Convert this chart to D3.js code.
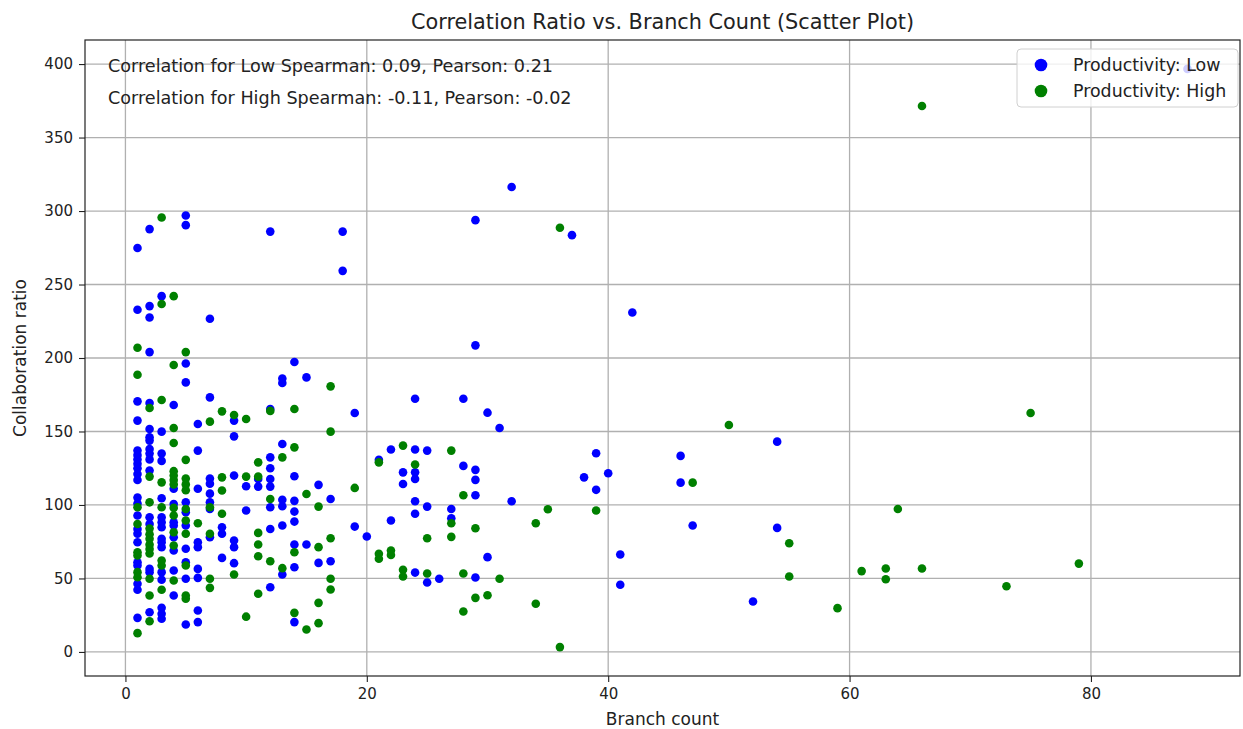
<!DOCTYPE html>
<html>
<head>
<meta charset="utf-8">
<script src="https://cdn.jsdelivr.net/npm/d3@7"></script>
<style>
  html, body { margin: 0; padding: 0; background: #ffffff; }
  svg text { font-family: "DejaVu Sans", sans-serif; fill: #222; }
</style>
</head>
<body>
<svg id="chart" width="1243" height="729"></svg>
<script>
// Branch count (x) and collaboration ratio (y) per project, split by productivity group
const lowX = [
  1,1,1,1,1,1,1,1,1,1,1,1,1,1,1,1,1,1,1,1,1,1,
  2,2,2,2,2,2,2,2,2,2,2,2,2,2,2,2,2,
  3,3,3,3,3,3,3,3,3,3,3,3,3,3,3,3,
  4,4,4,4,4,4,4,4,4,
  5,5,5,5,5,5,5,5,5,5,5,
  6,6,6,6,6,6,6,6,6,
  7,7,7,7,7,7,7,7,
  8,8,8,
  9,9,9,9,9,9,
  10,10,
  11,11,
  12,12,12,12,12,12,12,12,12,
  13,13,13,13,13,13,13,
  14,14,14,14,14,14,14,14,
  15,15,
  16,16,
  17,17,
  18,18,
  19,19,
  20,
  21,
  22,22,
  23,23,
  24,24,24,24,24,24,24,
  25,25,25,
  26,
  27,27,
  28,28,
  29,29,29,29,29,29,
  30,30,
  31,
  32,32,
  37,38,39,39,40,41,41,42,46,46,47,52,54,54,88
];
const lowY = [
  274.8,232.8,170.5,157.4,137,134,131,128,125,121,117,105,101,92.8,83.7,80.5,74.6,61,58.8,46.4,42.3,23.2,
  287.7,235.3,227.6,204,169.4,151.7,146,143.8,138,135,131,123.4,91.6,87.1,56.5,54.3,27,
  242.1,149.9,135,130,104.6,91.6,88.2,84.8,77,74.6,71.3,54.3,49.1,30,26,22.6,
  168,111,100.7,88.2,86,78,69,55.4,38.4,
  297,290.4,196.3,183.4,101.8,95,86,70.2,61,49.8,18.7,
  155.1,137,111,74.6,71.3,56.5,50.4,28.2,20.3,
  226.7,173.2,118,114.5,107.7,101.8,97.3,78,
  84.8,80.4,64,
  157.4,146.7,120,75.8,71.3,60.4,
  112.7,96.2,
  117.7,112.5,
  286,165.3,132.4,125,117.7,112.5,98.4,83.7,44,
  186,183,141.5,103.5,99.1,86,52.7,
  197.3,119.5,102.8,95.5,88.7,73.1,57.6,20.3,
  186.8,73.1,
  113.7,60.6,
  104.1,61.7,
  286,259.3,
  162.6,85.3,
  78.5,
  130.7,
  137.7,89.4,
  122.2,114.3,
  172.3,137.7,122.2,117.7,102.5,94,54,
  137,98.9,47.2,
  49.8,
  97.3,91,
  172.3,126.6,
  293.8,208.6,123.9,117.1,106.6,50.6,
  162.8,64.5,
  152.4,
  316.4,102.5,
  283.6,118.8,135.2,110.3,121.6,66.3,45.7,231,133.4,115.2,86,34.3,143.1,84.4,396.7
];

const highX = [
  1,1,1,1,1,1,1,1,1,
  2,2,2,2,2,2,2,2,2,2,2,2,
  3,3,3,3,3,3,3,3,
  4,4,4,4,4,4,4,4,4,4,4,4,4,
  5,5,5,5,5,5,5,5,5,5,5,
  6,
  7,7,7,7,7,
  8,8,8,8,
  9,9,
  10,10,10,
  11,11,11,11,11,11,
  12,12,12,
  13,13,
  14,14,14,14,
  15,15,
  16,16,16,16,
  17,17,17,17,17,
  19,
  21,21,21,
  22,22,
  23,23,23,
  24,
  25,25,
  27,27,27,
  28,28,28,
  29,29,
  30,31,
  34,34,35,36,36,39,47,50,55,55,59,61,63,63,64,66,66,73,75,79
];
const highY = [
  207,188.6,98.4,87.1,67.8,65.6,54.3,50.8,12.8,
  166,119.3,101.8,84,80,77,73,70,67,49.8,38.4,20.9,
  295.6,236.7,171.4,115.4,98.4,62.2,58.8,42.3,
  242.1,195.2,152.4,142.2,123,120,117,114,98,92.8,81.4,72.4,48.6,
  204,130.7,118,114,110,97.3,89.4,80.4,58.8,38.4,36.2,
  87.6,
  156.7,98.4,80.4,49.8,43.6,
  163.7,118.8,109.8,94,
  161.2,52.7,
  158.5,119.3,24,
  129,119.3,81,73.1,65.1,39.6,
  164,104.1,61.7,
  132.4,57,
  165.3,139.2,67.8,26.6,
  107.5,15.3,
  98.9,71.3,33.4,19.6,
  180.7,149.9,77.4,49.8,42.5,
  111.6,
  129,66.8,63.4,
  69,66,
  140.4,55.9,51.3,
  127.5,
  77.4,53.4,
  137,87.6,78.3,
  106.6,53.4,27.5,
  84.2,36.8,
  38.6,49.8,
  87.6,32.8,97.1,288.6,3.3,96.2,115.2,154.4,74,51.3,29.8,55,56.8,49.5,97.3,371.5,56.8,44.7,162.6,60.1
];

const seriesNames = ["Productivity: Low", "Productivity: High"];
const seriesColors = ["#0000ff", "#008000"];
const xTicks = [0, 20, 40, 60, 80];
const yTicks = [0, 50, 100, 150, 200, 250, 300, 350, 400];
const correlationNotes = [
  "Correlation for Low Spearman: 0.09, Pearson: 0.21",
  "Correlation for High Spearman: -0.11, Pearson: -0.02"
];
const titleText = "Correlation Ratio vs. Branch Count (Scatter Plot)";
const xLabel = "Branch count";
const yLabel = "Collaboration ratio";

// Layout
const plot = { left: 85, top: 40, right: 1240, bottom: 676 };

const svg = d3.select("#chart");

// Axis ranges padded by 5% around the data, like the usual scatter defaults
const allX = lowX.concat(highX), allY = lowY.concat(highY);
const [xmin, xmax] = d3.extent(allX);
const [ymin, ymax] = d3.extent(allY);
const xPad = (xmax - xmin) * 0.05, yPad = (ymax - ymin) * 0.05;

const x = d3.scaleLinear().domain([xmin - xPad, xmax + xPad]).range([plot.left, plot.right]);
const y = d3.scaleLinear().domain([ymin - yPad, ymax + yPad]).range([plot.bottom, plot.top]);

// Grid
const grid = svg.append("g");
grid.selectAll("line.gx").data(xTicks).join("line")
  .attr("x1", d => x(d)).attr("x2", d => x(d))
  .attr("y1", plot.top).attr("y2", plot.bottom)
  .attr("stroke", "#b0b0b0").attr("stroke-width", 1.3);
grid.selectAll("line.gy").data(yTicks).join("line")
  .attr("x1", plot.left).attr("x2", plot.right)
  .attr("y1", d => y(d)).attr("y2", d => y(d))
  .attr("stroke", "#b0b0b0").attr("stroke-width", 1.3);

// Points: low group first, high group drawn over it
const groups = [
  { xs: lowX, ys: lowY, color: seriesColors[0] },
  { xs: highX, ys: highY, color: seriesColors[1] }
];
groups.forEach(g => {
  svg.append("g").selectAll("circle")
    .data(g.xs.map((v, i) => [v, g.ys[i]]))
    .join("circle")
    .attr("cx", d => x(d[0]))
    .attr("cy", d => y(d[1]))
    .attr("r", 4.3)
    .attr("fill", g.color);
});

// Axes
const xAxis = d3.axisBottom(x).tickValues(xTicks).tickSize(6).tickPadding(6).tickFormat(d3.format("d"));
const yAxis = d3.axisLeft(y).tickValues(yTicks).tickSize(6).tickPadding(6).tickFormat(d3.format("d"));

const gx = svg.append("g").attr("transform", `translate(0,${plot.bottom})`).call(xAxis);
const gy = svg.append("g").attr("transform", `translate(${plot.left},0)`).call(yAxis);
[gx, gy].forEach(g => {
  g.select(".domain").remove();
  g.selectAll(".tick line").attr("stroke", "#222").attr("stroke-width", 1.1);
  g.selectAll(".tick text").style("font-size", "15px").style("font-family", "DejaVu Sans, sans-serif").attr("fill", "#222");
});

// Frame
svg.append("rect")
  .attr("x", plot.left).attr("y", plot.top)
  .attr("width", plot.right - plot.left).attr("height", plot.bottom - plot.top)
  .attr("fill", "none").attr("stroke", "#222").attr("stroke-width", 1.2);

// Title and axis labels
svg.append("text")
  .attr("x", (plot.left + plot.right) / 2).attr("y", 29)
  .attr("text-anchor", "middle").style("font-size", "20.8px")
  .text(titleText);

svg.append("text")
  .attr("x", (plot.left + plot.right) / 2).attr("y", 725)
  .attr("text-anchor", "middle").style("font-size", "17px")
  .text(xLabel);

svg.append("text")
  .attr("transform", `translate(26,${(plot.top + plot.bottom) / 2}) rotate(-90)`)
  .attr("text-anchor", "middle").style("font-size", "17px")
  .text(yLabel);

// Correlation notes
correlationNotes.forEach((t, i) => {
  svg.append("text")
    .attr("x", 108).attr("y", 72 + i * 32)
    .style("font-size", "17.6px")
    .text(t);
});

// Legend
const lg = svg.append("g").attr("transform", "translate(1017,49)");
lg.append("rect")
  .attr("width", 221).attr("height", 58).attr("rx", 4)
  .attr("fill", "#ffffff").attr("fill-opacity", 0.8)
  .attr("stroke", "#d0d0d0").attr("stroke-width", 1);
seriesNames.forEach((name, i) => {
  lg.append("circle").attr("cx", 24).attr("cy", 16 + i * 26).attr("r", 6.3).attr("fill", seriesColors[i]);
  lg.append("text").attr("x", 56).attr("y", 22 + i * 26).style("font-size", "17.4px").text(name);
});
</script>
</body>
</html>
